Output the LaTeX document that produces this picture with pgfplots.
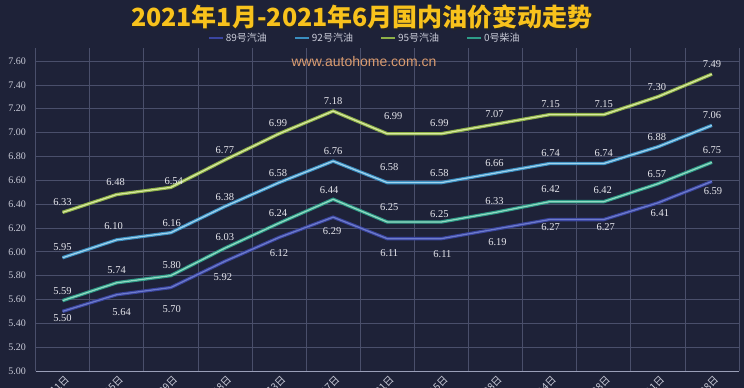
\documentclass[border=0pt]{standalone}
\usepackage{fontspec}
\usepackage{pgfplots}
\usepackage{pgfplotstable}
\pgfplotsset{compat=1.18}
\setmainfont{Liberation Serif}
\newfontfamily\cjk{Noto Sans CJK SC}
\newfontfamily\sansf{Liberation Sans}

\definecolor{bg}{HTML}{1E2238}
\definecolor{gridc}{HTML}{4A4F6B}
\definecolor{axisc}{HTML}{9A9FB8}
\definecolor{tickc}{HTML}{C9CBD8}
\definecolor{labelc}{HTML}{E6E6EC}
\definecolor{titley}{HTML}{F8C21C}
\definecolor{wm}{HTML}{DB9C70}
\definecolor{vd}{HTML}{3A45A0}\definecolor{vl}{HTML}{6E7CCB}
\definecolor{bd}{HTML}{3A8EC0}\definecolor{bl}{HTML}{A2D3EC}
\definecolor{gd}{HTML}{8DB048}\definecolor{gl}{HTML}{D9E9A2}
\definecolor{td}{HTML}{2E9C88}\definecolor{tl}{HTML}{93D9C2}

% x y dx dy (label offsets in pt)
\pgfplotstableread{
x y dx dy
0 6.33 0 10
1 6.48 -1 12.5
2 6.54 3 6.5
3 6.77 0 10
4 6.99 -1 10.7
5 7.18 0 10
6 6.99 6 17.7
7 6.99 -2 10.7
8 7.07 -1 10
9 7.15 1 10.6
10 7.15 0 10.6
11 7.30 -1 9.7
12 7.49 0 10
}\tNF
\pgfplotstableread{
x y dx dy
0 5.95 0 10.7
1 6.10 -3 13.8
2 6.16 1 9.7
3 6.38 0 9.4
4 6.58 -1 9.6
5 6.76 0 10
6 6.58 2 15.6
7 6.58 -2 9.6
8 6.66 -1 10
9 6.74 1 10.5
10 6.74 0 10.5
11 6.88 -1 9.8
12 7.06 0 10.4
}\tNT
\pgfplotstableread{
x y dx dy
0 5.59 0 9.6
1 5.74 0 12.8
2 5.80 1 10.6
3 6.03 0 11.2
4 6.24 -1 10
5 6.44 -4 9.3
6 6.25 2 15
7 6.25 -2 8
8 6.33 -1 11.4
9 6.42 1 12.7
10 6.42 -1 11.7
11 6.57 -1 10
12 6.75 0 12.3
}\tZD
\pgfplotstableread{
x y dx dy
0 5.50 0 -6.6
1 5.64 5 -17.3
2 5.70 1 -21.5
3 5.92 -2 -15.7
4 6.12 0 -15.6
5 6.29 -1 -13.8
6 6.11 2 -14.4
7 6.11 1 -15.4
8 6.19 2 -13
9 6.27 1 -7.4
10 6.27 2 -7.4
11 6.41 2 -10
12 6.59 1 -9.6
}\tEN

\pgfplotsset{
  vlab/.style={draw=none, forget plot, mark=none,
    point meta=explicit,
    nodes near coords={\pgfmathprintnumber[fixed,fixed zerofill,precision=2,assume math mode=true]{\pgfplotspointmeta}},
    visualization depends on={\thisrow{dx} \as \dx},
    visualization depends on={\thisrow{dy} \as \dy},
    every node near coord/.append style={anchor=center, xshift=\dx pt, yshift=\dy pt,
      text=labelc, font=\fontsize{10.5}{12}\selectfont, inner sep=0pt}},
}

\begin{document}
\begin{tikzpicture}
\fill[bg] (0,0) rectangle (744pt,388pt);
\begin{axis}[
  at={(35.5pt,17pt)}, anchor=south west,
  scale only axis, width=703.5pt, height=323pt,
  xmin=-0.5, xmax=12.5, ymin=5, ymax=7.709,
  xtick={0,...,12},
  xticklabels={1月1日,1月15日,1月29日,2月18日,3月3日,3月17日,3月31日,4月15日,4月28日,5月14日,5月28日,6月11日,6月28日},
  minor xtick={-0.5,0.5,...,12.5},
  ytick={5,5.2,...,7.61},
  yticklabel={\pgfmathprintnumber[fixed,fixed zerofill,precision=2,assume math mode=true]{\tick}},
  major tick length=0pt, minor tick length=0pt,
  ymajorgrids=true, xminorgrids=true,
  grid style={gridc, line width=0.6pt},
  minor grid style={gridc, line width=0.6pt},
  axis x line*=bottom, axis y line*=left,
  x axis line style={-, axisc, line width=0.8pt},
  y axis line style={draw=none},
  yticklabel style={text=tickc, font=\fontsize{10}{12}\selectfont, xshift=-6pt},
  xticklabel style={text=tickc, font=\cjk\fontsize{10}{12}\selectfont, rotate=45, anchor=east, xshift=2pt, yshift=-8pt},
  legend columns=4,
  legend style={at={(0.468,1.031)}, anchor=center, draw=none, fill=none,
    text=tickc, font=\cjk\fontsize{10}{12}\selectfont,
    /tikz/every even column/.append style={column sep=25pt}},
  legend image code/.code={\draw[#1, line width=2pt] (0pt,0pt) -- (14pt,0pt);},
  legend cell align=left,
]
\addplot[vd, line width=3.4pt, mark=none] table[x=x,y=y]{\tEN};
\addlegendentry{89号汽油}
\addplot[bd, line width=3.4pt, mark=none] table[x=x,y=y]{\tNT};
\addlegendentry{92号汽油}
\addplot[gd, line width=3.4pt, mark=none] table[x=x,y=y]{\tNF};
\addlegendentry{95号汽油}
\addplot[td, line width=3.4pt, mark=none] table[x=x,y=y]{\tZD};
\addlegendentry{0号柴油}
\addplot[vl, line width=1.2pt, mark=none, forget plot] table[x=x,y=y]{\tEN};
\addplot[bl, line width=1.2pt, mark=none, forget plot] table[x=x,y=y]{\tNT};
\addplot[gl, line width=1.2pt, mark=none, forget plot] table[x=x,y=y]{\tNF};
\addplot[tl, line width=1.2pt, mark=none, forget plot] table[x=x,y=y]{\tZD};
\addplot[vlab] table[x=x,y=y,meta=y]{\tEN};
\addplot[vlab] table[x=x,y=y,meta=y]{\tNT};
\addplot[vlab] table[x=x,y=y,meta=y]{\tNF};
\addplot[vlab] table[x=x,y=y,meta=y]{\tZD};
\end{axis}
\node[text=wm, font=\sansf\fontsize{14}{16}\selectfont] at (364pt,326pt) {www.autohome.com.cn};
\node[text=black!85, font=\cjk\bfseries\fontsize{25}{30}\selectfont] at (363.5pt,369.5pt) {2021年1月-2021年6月国内油价变动走势};
\node[text=titley, font=\cjk\bfseries\fontsize{25}{30}\selectfont] at (362pt,371pt) {2021年1月-2021年6月国内油价变动走势};
\pgfresetboundingbox
\useasboundingbox (0,0) rectangle (744pt,388pt);
\end{tikzpicture}
\end{document}
